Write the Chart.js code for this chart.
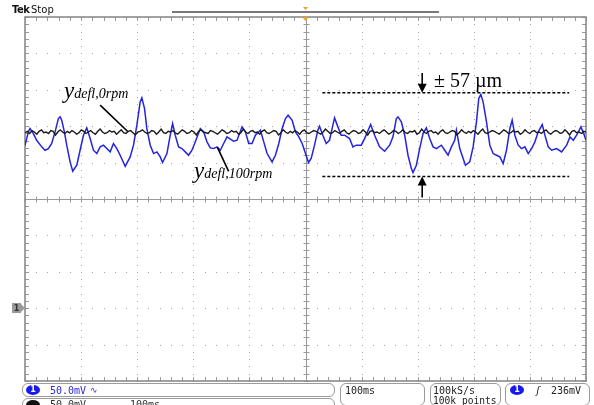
<!DOCTYPE html>
<html><head><meta charset="utf-8">
<script src="https://cdn.jsdelivr.net/npm/chart.js@4"></script>
<style>
html,body{margin:0;padding:0;background:#fff;}
#wrap{position:relative;width:594px;height:405px;overflow:hidden;background:#fff;}
canvas{position:absolute;left:0;top:0;}
.t{position:absolute;white-space:nowrap;}
.mono{font-family:"DejaVu Sans Mono",monospace;font-size:10px;line-height:11px;color:#222;}
.box{position:absolute;border:1px solid #9a9a9a;border-radius:6px;box-sizing:border-box;background:#fff;}
.ell{position:absolute;width:14px;height:10px;border-radius:50%;color:#fff;font:bold 8px "DejaVu Sans",sans-serif;line-height:10px;text-align:center;}
.lab{font-family:"Liberation Serif","Times New Roman",serif;font-style:italic;color:#000;line-height:23px;}
</style></head><body>
<div id="wrap">
<canvas id="c" width="594" height="405"></canvas>

<div class="t" style="left:12px;top:4px;font:bold 10px 'DejaVu Sans',sans-serif;letter-spacing:-0.5px;color:#111;">Tek</div>
<div class="t" style="left:31px;top:4px;font:10px 'DejaVu Sans',sans-serif;color:#111;">Stop</div>

<div class="t lab" style="left:64px;top:79px;"><span style="font-size:23px;">y</span><span style="font-size:14px;">defl,0rpm</span></div>
<div class="t lab" style="left:194px;top:159px;"><span style="font-size:23px;">y</span><span style="font-size:14px;">defl,100rpm</span></div>
<div class="t" style="left:434px;top:70px;font:20px 'Liberation Serif','Times New Roman',serif;line-height:20px;color:#000;">± 57 µm</div>

<div class="box" style="left:22px;top:383px;width:313px;height:14px;"></div>
<div class="ell" style="left:26px;top:385px;background:#1818f0;">1</div>
<div class="t mono" style="left:50px;top:385px;color:#2a2ad0;">50.0mV</div>
<div class="t mono" style="left:90px;top:385px;color:#2a2ad0;font-size:9px;">∿</div>

<div class="box" style="left:22px;top:398px;width:313px;height:14px;"></div>
<div class="ell" style="left:26px;top:400px;background:#111;"></div>
<div class="t mono" style="left:50px;top:399px;color:#333;">50.0mV</div>
<div class="t mono" style="left:130px;top:399px;color:#333;">100ms</div>

<div class="box" style="left:340px;top:383px;width:85px;height:23px;"></div>
<div class="t mono" style="left:345px;top:385px;">100ms</div>

<div class="box" style="left:430px;top:383px;width:71px;height:23px;"></div>
<div class="t mono" style="left:433px;top:385px;">100kS/s</div>
<div class="t mono" style="left:433px;top:395px;font-size:9.6px;">100k points</div>

<div class="box" style="left:505px;top:383px;width:85px;height:23px;"></div>
<div class="ell" style="left:510px;top:385px;background:#1818f0;">1</div>
<div class="t mono" style="left:535px;top:385px;font-style:italic;">ʃ</div>
<div class="t mono" style="left:551px;top:385px;">236mV</div>
</div>

<script>
// ---- data (time in ms, values in mV, 100 ms/div, 50 mV/div) ----
const xTicks = [0,100,200,300,400,500,600,700,800,900,1000];
const yTicks = [-100,-50,0,50,100,150,200,250,300,350,400];

const blueTimes = [0,6,8.9,14.9,20.8,29.8,35.7,41.7,47.6,53.6,59.5,62.5,65.5,70.2,74.4,80.4,85.1,92.3,98.2,104.2,110.1,116.1,122,128,133.9,139.9,145.8,151.8,157.7,163.7,169.6,178.6,187.5,193.4,199.4,205.3,208.3,213.1,217.2,223.2,229.2,235.1,241.1,245.2,253,258.9,263.1,267.8,273.8,279.7,285.7,291.6,297.6,303.6,312.5,318.4,324.4,330.3,336.3,342.2,348.2,354.1,360.1,366,372,378,386.9,392.8,398.8,404.7,410.7,419.6,425.6,431.5,440.4,446.4,452.4,458.3,464.3,469,476.2,482.1,488.1,494,498.5,505.3,510.1,516.1,522,525,530.9,536.9,542.8,548.8,551.8,557.7,563.7,569.6,578.6,584.5,590.5,599.4,605.3,616.1,623.2,632.1,641,650,655.9,661.9,664.9,670.8,676.8,682.7,688.7,691.6,697.6,703.5,709.5,715.4,721.4,727.4,733.3,742.2,748.2,754.1,760.1,766,769,775,785.1,792.8,798.8,804.7,808.9,812.5,816.6,822.6,828.6,834.5,840.5,846.4,852.4,858.3,864.3,868.4,873.2,879.2,885.1,891.1,897,903,908.9,914.9,922,926.8,932.7,938.7,947.6,956.5,965.5,971.4,977.4,983.3,991,997,1000];
const blueValues = [223.9,242.2,246.8,239.9,230.7,221.6,217,219.3,226.2,242.2,260.5,262.8,258.2,242.2,223.9,201,188.2,196.4,217,237.6,247.7,233,217,212.4,221.6,223.9,219.3,214.7,226.2,219.3,210.1,195,207.9,223.9,251.4,283.4,288.9,274.2,246.8,223.9,212.4,214.7,207.9,200.1,212.4,237.6,253.6,237.6,221.6,219.3,214.7,210.1,217,228.5,246.8,242.2,228.5,220.2,219.3,221.6,217,226.2,235.3,232.1,229.4,230.7,249.1,242.2,226.2,226.2,237.6,244.5,228.5,212.4,201,210.1,226.2,246.8,260.5,265.1,258.2,242.2,235.3,226.2,216,200.1,205.6,223.9,244.5,250,237.6,226.2,230.7,251.4,261.4,249.1,237.6,237.6,233,221.6,223.9,223.9,233,252.3,237.6,221.6,215.6,223.9,235.3,260.5,262.8,255.9,237.6,210.1,191.8,186.3,196.4,219.3,239.9,247.7,233,221.6,219.3,223.9,217,210.1,221.6,230.7,244.5,219.3,196.4,201,221.6,255.9,288,293.5,283.4,255.9,223.9,212.4,210.1,207.9,198.7,217,246.8,258.2,237.6,223.9,219.3,221.6,212.4,219.3,228.5,242.2,252.3,237.6,221.6,217,219.3,214.7,223.9,235.3,230.7,237.6,249.1,237.6,230.7];

const blackValues = [241,243,240,244,242,239,243,245,241,242,240,244,243,238,242,245,242,240,243,241,
244,242,239,241,245,243,240,242,244,241,239,243,246,242,240,241,244,242,243,239,
242,245,241,240,243,244,241,238,242,243,245,242,240,241,244,243,239,242,246,241,
240,243,242,244,241,239,242,245,243,240,241,244,242,238,243,245,242,241,240,244,
243,241,239,242,245,243,240,241,244,242,243,239,241,246,242,240,243,244,241,242,
239,243,245,241,240,242,244,243,238,241,245,242,240,243,241,244,242,239,243,245,
241,240,242,244,243,241,239,242,246,243,240,241,244,242,240,243,245,241,239,242,
244,243,240,241,245,242,238,243,244,241,242,240,243,245,242,239,241,244,243,240,
242,245,241,240,243,242,244,239,241,246,242,240,243,244,241,242,239,243,245,241,
240,242,244,243,238,241,245,242,240,243,241,244,242,239,243,246,241,240,242,244,
243,241,239,242,245,243,240,241,244,242,243,239,241,245,242,240,243,244,241,242,
240,243,245,241,239,242,244,243,240,241,245,242,238,243,244,241,242,240,243,242];

const refTimes = [530, 970];
const refUpper = [296, 296];
const refLower = [181, 181];
const leader0Times = [134, 184];
const leader0Values = [279, 242];
const leader100Times = [343, 363];
const leader100Values = [221, 188];
const arrowTime = 708;
const arrowDown = [323, 296];
const arrowUp = [152, 181];
const groundLevel = 0;

const pts = (xs, ys) => xs.map((v, i) => ({x: v, y: ys[i]}));
const blackPts = blackValues.map((v, i) => ({x: i * 1000 / (blackValues.length - 1), y: v}));

const scopeGrid = {
  id: 'scopeGrid',
  beforeDatasetsDraw(chart) {
    const {ctx, chartArea: a, scales: {x, y}} = chart;
    ctx.save();
    ctx.fillStyle = '#a4a4a4';
    xTicks.forEach((t, i) => {
      if (i === 0 || i === 5 || i === 10) return;
      const px = Math.round(x.getPixelForValue(t));
      for (let k = -100; k <= 400; k += 10) {
        ctx.fillRect(px, Math.round(y.getPixelForValue(k)), 1, 1);
      }
    });
    yTicks.forEach((v, j) => {
      if (j === 0 || j === 5 || j === 10) return;
      const py = Math.round(y.getPixelForValue(v));
      for (let k = 0; k <= 1000; k += 20) {
        ctx.fillRect(Math.round(x.getPixelForValue(k)), py, 1, 1);
      }
    });
    ctx.strokeStyle = '#9a9a9a';
    ctx.lineWidth = 1;
    const cx = Math.round(x.getPixelForValue(500)) + 0.5;
    const cy = Math.round(y.getPixelForValue(150)) + 0.5;
    ctx.beginPath();
    ctx.moveTo(cx, a.top); ctx.lineTo(cx, a.bottom);
    ctx.moveTo(a.left, cy); ctx.lineTo(a.right, cy);
    for (let k = -100; k <= 400; k += 10) {
      const py = Math.round(y.getPixelForValue(k)) + 0.5;
      ctx.moveTo(cx - 3, py); ctx.lineTo(cx + 3, py);
      ctx.moveTo(a.left, py); ctx.lineTo(a.left + 4, py);
      ctx.moveTo(a.right - 4, py); ctx.lineTo(a.right, py);
    }
    for (let k = 0; k <= 1000; k += 20) {
      const px = Math.round(x.getPixelForValue(k)) + 0.5;
      ctx.moveTo(px, cy - 3); ctx.lineTo(px, cy + 3);
      ctx.moveTo(px, a.top); ctx.lineTo(px, a.top + 4);
      ctx.moveTo(px, a.bottom - 4); ctx.lineTo(px, a.bottom);
    }
    ctx.stroke();
    ctx.strokeStyle = '#8a8a8a';
    ctx.lineWidth = 1.6;
    ctx.strokeRect(a.left, a.top, a.right - a.left, a.bottom - a.top);
    ctx.restore();
  },
  afterDatasetsDraw(chart) {
    const {ctx, scales: {x, y}} = chart;
    ctx.save();
    ctx.fillStyle = '#000'; ctx.strokeStyle = '#000'; ctx.lineWidth = 1.6;
    const ax = x.getPixelForValue(arrowTime);
    const d0 = y.getPixelForValue(arrowDown[0]), d1 = y.getPixelForValue(arrowDown[1]);
    ctx.beginPath(); ctx.moveTo(ax, d0); ctx.lineTo(ax, d1 - 6); ctx.stroke();
    ctx.beginPath(); ctx.moveTo(ax - 4.5, d1 - 9); ctx.lineTo(ax + 4.5, d1 - 9); ctx.lineTo(ax, d1); ctx.closePath(); ctx.fill();
    const u0 = y.getPixelForValue(arrowUp[0]), u1 = y.getPixelForValue(arrowUp[1]);
    ctx.beginPath(); ctx.moveTo(ax, u0); ctx.lineTo(ax, u1 + 6); ctx.stroke();
    ctx.beginPath(); ctx.moveTo(ax - 4.5, u1 + 9); ctx.lineTo(ax + 4.5, u1 + 9); ctx.lineTo(ax, u1); ctx.closePath(); ctx.fill();
    ctx.restore();
  },
  afterDraw(chart) {
    const {ctx, chartArea: a, scales: {x, y}} = chart;
    ctx.save();
    ctx.strokeStyle = '#7a7a7a'; ctx.lineWidth = 2;
    ctx.beginPath(); ctx.moveTo(172, 12); ctx.lineTo(439, 12); ctx.stroke();
    const tx = x.getPixelForValue(500);
    ctx.fillStyle = '#f0a020';
    ctx.beginPath(); ctx.moveTo(tx - 2.5, 7); ctx.lineTo(tx + 2.5, 7); ctx.lineTo(tx, 10); ctx.closePath(); ctx.fill();
    ctx.beginPath(); ctx.moveTo(tx - 3.5, a.top); ctx.lineTo(tx + 3.5, a.top); ctx.lineTo(tx, a.top + 4); ctx.closePath(); ctx.fill();
    const gy = Math.round(y.getPixelForValue(groundLevel));
    ctx.fillStyle = '#9a9a9a';
    ctx.fillRect(12, gy - 5, 9, 10);
    ctx.beginPath(); ctx.moveTo(21, gy - 4); ctx.lineTo(25, gy); ctx.lineTo(21, gy + 4); ctx.closePath(); ctx.fill();
    ctx.fillStyle = '#333';
    ctx.font = 'bold 8px "DejaVu Sans", sans-serif';
    ctx.textAlign = 'center'; ctx.textBaseline = 'middle';
    ctx.fillText('1', 16.5, gy + 0.5);
    ctx.restore();
  }
};

new Chart(document.getElementById('c'), {
  type: 'line',
  data: {
    datasets: [
      {data: blackPts, borderColor: '#1a1a1a', borderWidth: 1.4, pointRadius: 0, order: 0},
      {data: pts(blueTimes, blueValues), borderColor: '#2424e0', borderWidth: 1.5, pointRadius: 0, order: 1},
      {data: pts(refTimes, refUpper), borderColor: '#000', borderWidth: 1.6, borderDash: [3, 2], pointRadius: 0, order: 2},
      {data: pts(refTimes, refLower), borderColor: '#000', borderWidth: 1.6, borderDash: [3, 2], pointRadius: 0, order: 2},
      {data: pts(leader0Times, leader0Values), borderColor: '#000', borderWidth: 1.6, pointRadius: 0, order: 0},
      {data: pts(leader100Times, leader100Values), borderColor: '#000', borderWidth: 1.6, pointRadius: 0, order: 0}
    ]
  },
  options: {
    responsive: false,
    animation: false,
    devicePixelRatio: 1,
    layout: {padding: {left: 25, right: 8, top: 17, bottom: 24}},
    plugins: {legend: {display: false}, tooltip: {enabled: false}},
    elements: {line: {tension: 0}},
    scales: {
      x: {type: 'linear', min: 0, max: 1000, display: false},
      y: {type: 'linear', min: -100, max: 400, display: false}
    }
  },
  plugins: [scopeGrid]
});
</script>
</body></html>
